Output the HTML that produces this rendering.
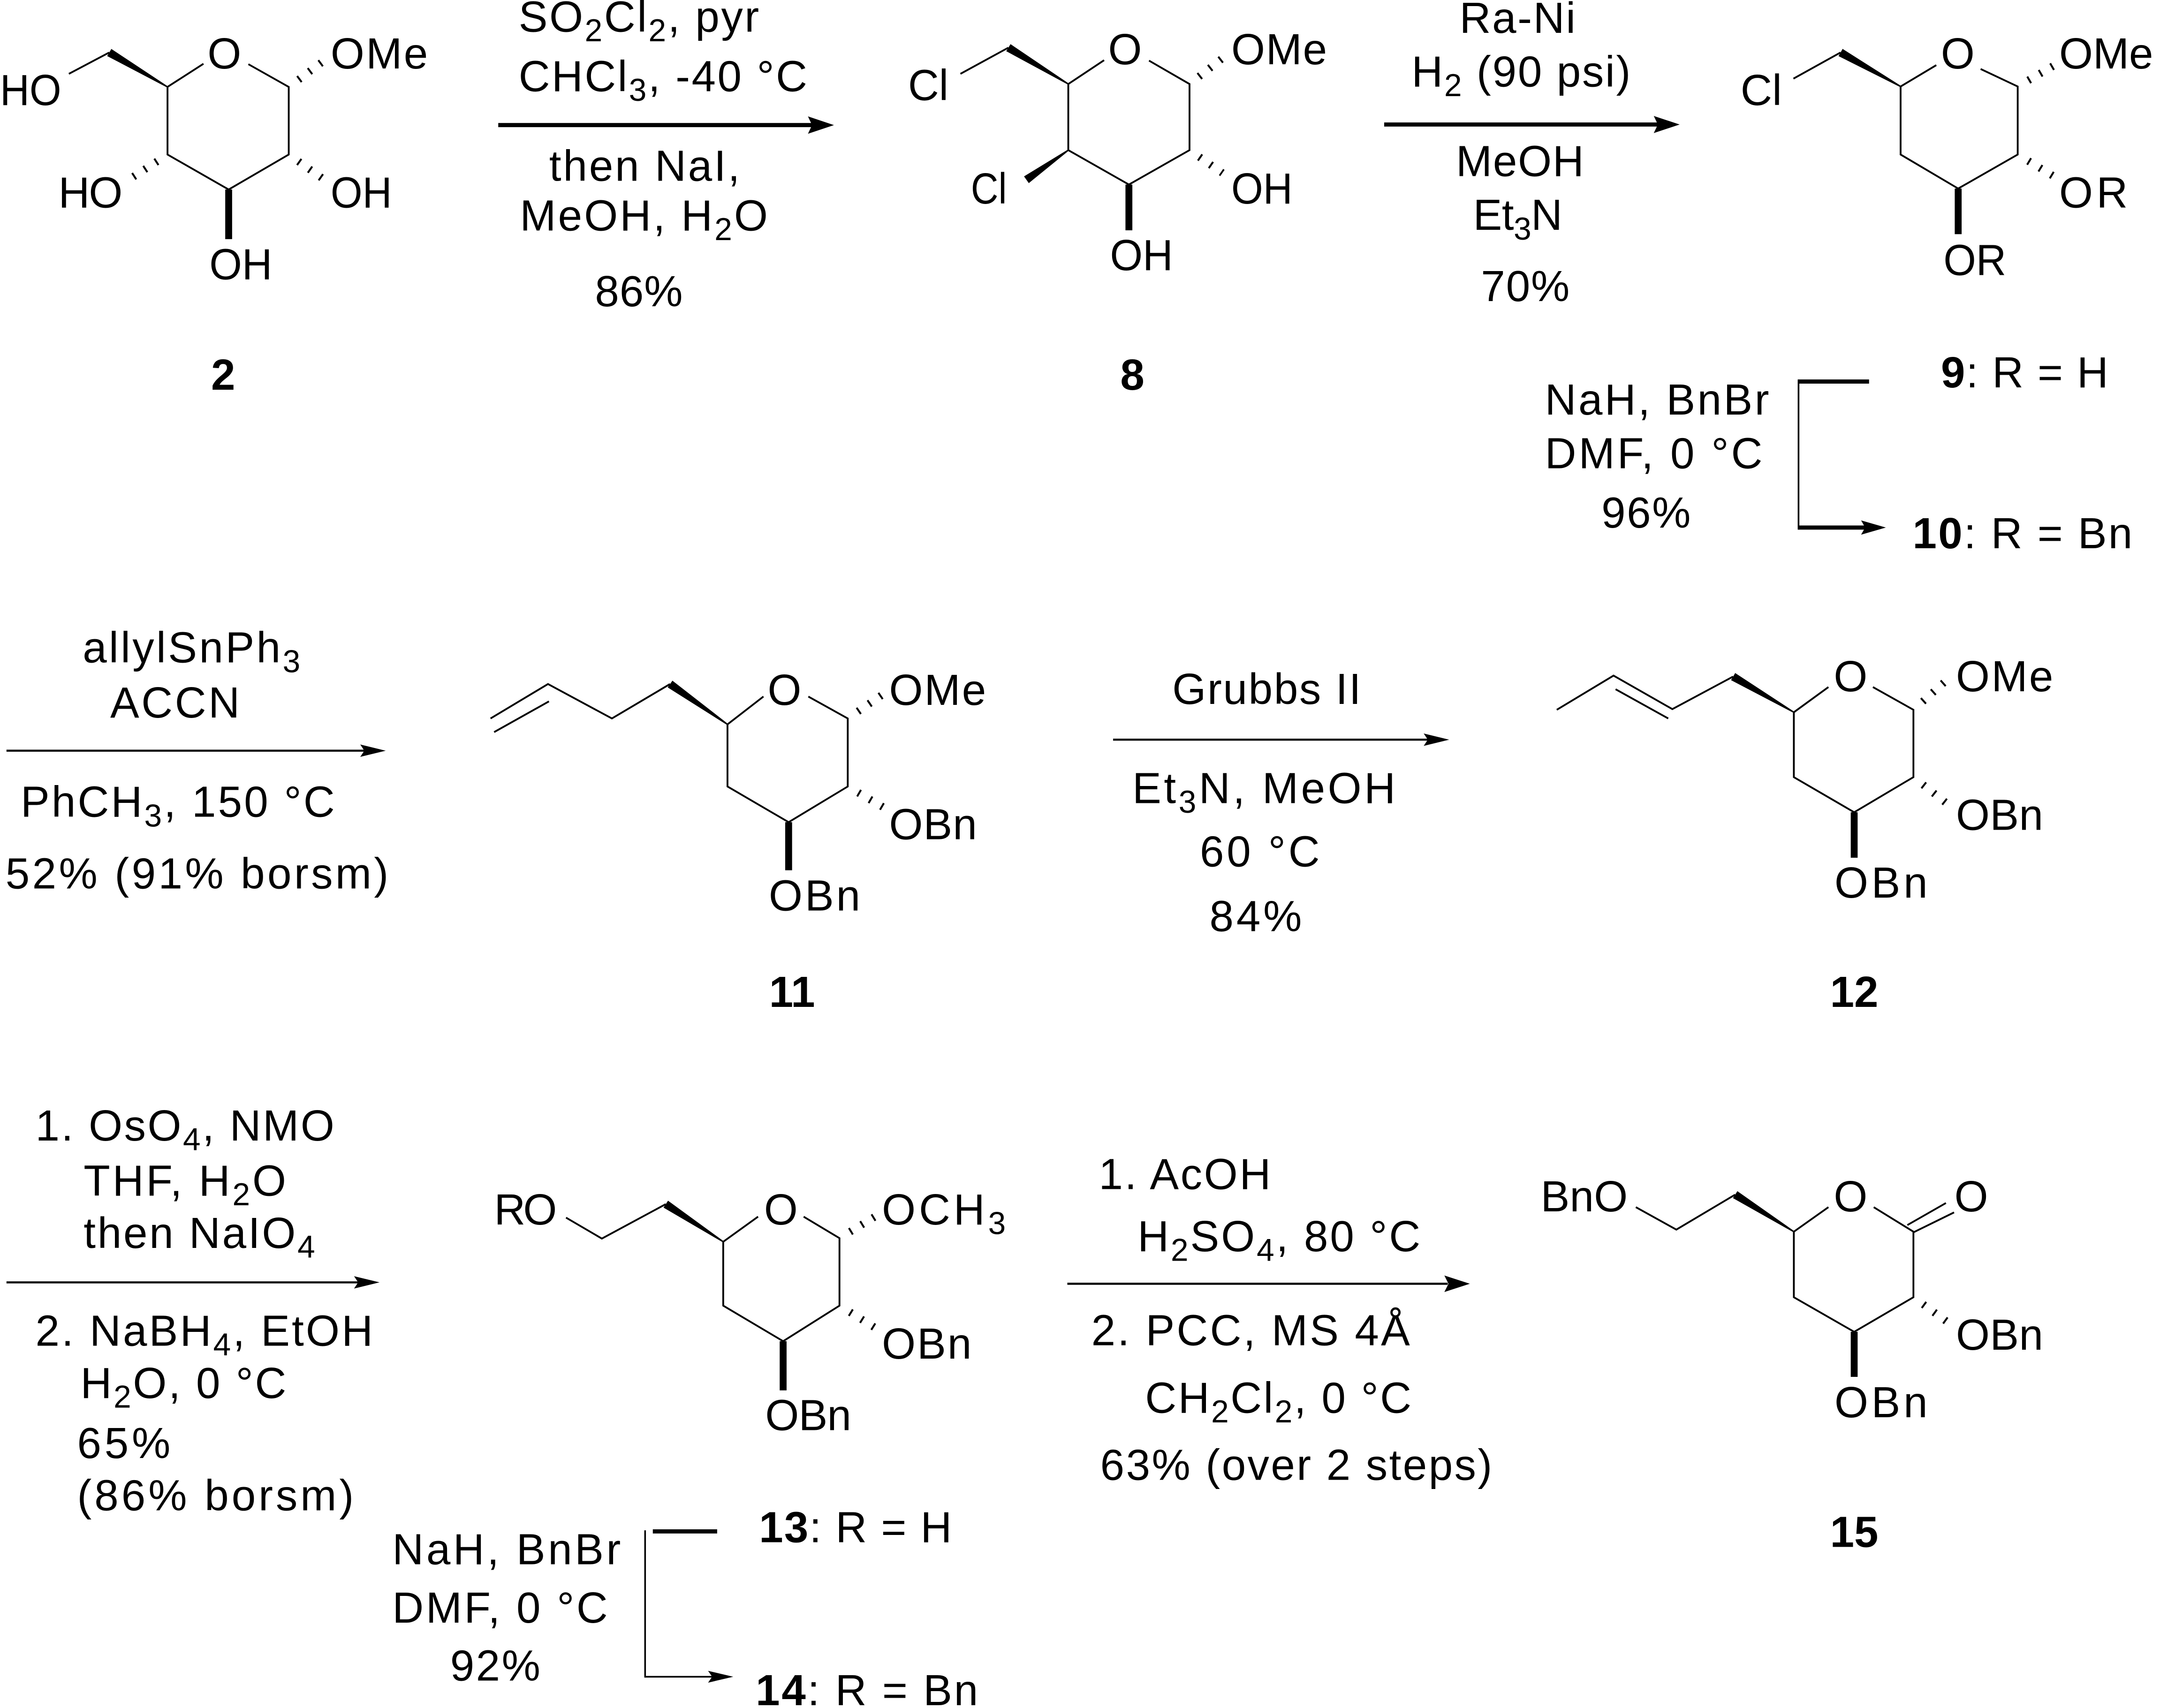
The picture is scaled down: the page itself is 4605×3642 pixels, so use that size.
<!DOCTYPE html>
<html>
<head>
<meta charset="utf-8">
<style>
html,body{margin:0;padding:0;background:#fff;}
svg{display:block;}
text{font-family:"Liberation Sans",Arial,sans-serif;font-size:31.5px;fill:#000;}
.b{font-weight:bold;}
.sb{font-size:23px;}
.bd{fill:none;stroke:#000;stroke-width:1.3;stroke-linejoin:miter;}
.h{stroke:#000;stroke-width:5.5;stroke-dasharray:1.4 8.2;stroke-dashoffset:3.9;fill:none;}
.ar{stroke:#000;stroke-width:3;fill:none;}
.at{stroke:#000;stroke-width:1.5;fill:none;}
.tn{stroke:#000;stroke-width:1.2;fill:none;}
</style>
</head>
<body>
<svg width="4605" height="3642" viewBox="0 0 1568 1240" preserveAspectRatio="none" xmlns="http://www.w3.org/2000/svg">
<rect x="0" y="0" width="1568" height="1240" fill="#fff"/>

<!-- ================= Structure 2 ================= -->
<polyline class="bd" points="147.7,46.3 121.6,63.1 121.6,112.2 166,137.6 209.6,112.2 209.6,63.1 180.3,46.6"/>
<line class="bd" x1="79.3" y1="38.1" x2="50" y2="53.6"/>
<polygon points="121.85,62.67 80.83,35.52 77.77,40.68 121.35,63.53" fill="#000"/>
<rect x="163.5" y="137.6" width="5" height="36" fill="#000"/>
<line class="h" x1="212.2" y1="61.2" x2="235.7" y2="43.7"/>
<line class="h" x1="118.9" y1="114" x2="94.5" y2="129.8"/>
<line class="h" x1="212" y1="113.9" x2="233.5" y2="129.1"/>
<text x="162.9" y="49.7" text-anchor="middle">O</text>
<text x="0" y="76.2" textLength="44.5" lengthAdjust="spacingAndGlyphs">HO</text>
<text x="240" y="49.7" textLength="70.6" lengthAdjust="spacing">OMe</text>
<text x="42.4" y="150.7" textLength="46.6" lengthAdjust="spacing">HO</text>
<text x="240" y="150.7" textLength="44.5" lengthAdjust="spacingAndGlyphs">OH</text>
<text x="152" y="202.8" textLength="45.6" lengthAdjust="spacingAndGlyphs">OH</text>
<text class="b" x="162" y="283" text-anchor="middle">2</text>

<!-- arrow 1 -->
<line class="ar" x1="361.7" y1="90.8" x2="590" y2="90.8"/>
<polygon points="605.4,90.8 586.5,84.5 589.5,90.8 586.5,97.1" fill="#000"/>
<text x="376.5" y="22.9" textLength="174.5" lengthAdjust="spacing">SO<tspan class="sb" dy="7">2</tspan><tspan dy="-7">Cl</tspan><tspan class="sb" dy="7">2</tspan><tspan dy="-7">, pyr</tspan></text>
<text x="376.5" y="66.2" textLength="209.5" lengthAdjust="spacing">CHCl<tspan class="sb" dy="7">3</tspan><tspan dy="-7">, -40 °C</tspan></text>
<text x="398.7" y="131.2" textLength="138.4" lengthAdjust="spacing">then NaI,</text>
<text x="377.4" y="167.3" textLength="180" lengthAdjust="spacing">MeOH, H<tspan class="sb" dy="7">2</tspan><tspan dy="-7">O</tspan></text>
<text x="431.9" y="222.3" textLength="63.7" lengthAdjust="spacing">86%</text>

<!-- ================= Structure 8 ================= -->
<polyline class="bd" points="801.5,43.7 775.5,61 775.5,109 819.5,134 863.5,109 863.5,61 834.1,44"/>
<line class="bd" x1="697.2" y1="53.6" x2="732" y2="34.6"/>
<polygon points="775.76,60.57 733.56,32.04 730.44,37.17 775.24,61.43" fill="#000"/>
<polygon points="775.21,108.59 743.37,128.05 746.83,132.95 775.79,109.41" fill="#000"/>
<rect x="817" y="134" width="5" height="33.2" fill="#000"/>
<line class="h" x1="865.9" y1="59.1" x2="887.4" y2="42.3"/>
<line class="h" x1="865.9" y1="110.7" x2="887.4" y2="125.6"/>
<text x="816.7" y="46.6" text-anchor="middle">O</text>
<text x="659.2" y="72.7" textLength="29.3" lengthAdjust="spacingAndGlyphs">Cl</text>
<text x="704.8" y="147.7" textLength="26.1" lengthAdjust="spacingAndGlyphs">Cl</text>
<text x="893.8" y="46.6" textLength="69.5" lengthAdjust="spacing">OMe</text>
<text x="893.8" y="147.7" textLength="44.5" lengthAdjust="spacingAndGlyphs">OH</text>
<text x="805.8" y="196.1" textLength="45.7" lengthAdjust="spacingAndGlyphs">OH</text>
<text class="b" x="822" y="283" text-anchor="middle">8</text>

<!-- arrow 2 -->
<line class="ar" x1="1004.8" y1="90.4" x2="1204" y2="90.4"/>
<polygon points="1219.3,90.4 1200.5,84.2 1203.5,90.4 1200.5,96.6" fill="#000"/>
<text x="1059.5" y="23.9" textLength="84.2" lengthAdjust="spacing">Ra-Ni</text>
<text x="1024.7" y="62.8" textLength="159" lengthAdjust="spacing">H<tspan class="sb" dy="7">2</tspan><tspan dy="-7"> (90 psi)</tspan></text>
<text x="1056.9" y="127.8" textLength="92.9" lengthAdjust="spacing">MeOH</text>
<text x="1069.4" y="166.9" textLength="64.8" lengthAdjust="spacing">Et<tspan class="sb" dy="7">3</tspan><tspan dy="-7">N</tspan></text>
<text x="1075.1" y="218.6" textLength="64.3" lengthAdjust="spacing">70%</text>

<!-- ================= Structure 9 ================= -->
<polyline class="bd" points="1405.6,47.3 1379.7,62.8 1379.7,112.2 1421.5,136.9 1464.7,112.2 1464.7,62.8 1437.8,50.1"/>
<line class="bd" x1="1301.9" y1="57.1" x2="1336.1" y2="38.1"/>
<polygon points="1379.95,62.37 1337.58,35.49 1334.62,40.71 1379.45,63.24" fill="#000"/>
<rect x="1419" y="136.9" width="5" height="33.1" fill="#000"/>
<line class="h" x1="1467.5" y1="61.2" x2="1492.7" y2="46.6"/>
<line class="h" x1="1467.5" y1="113.9" x2="1492.7" y2="129.1"/>
<text x="1421.2" y="49.7" text-anchor="middle">O</text>
<text x="1263.5" y="76.2" textLength="30" lengthAdjust="spacingAndGlyphs">Cl</text>
<text x="1494.8" y="49.7">OMe</text>
<text x="1494.8" y="150.7" textLength="49.8" lengthAdjust="spacing">OR</text>
<text x="1410.8" y="199.7" textLength="45.6" lengthAdjust="spacingAndGlyphs">OR</text>

<!-- bent arrow 9 -> 10 -->
<line class="ar" x1="1305.6" y1="277" x2="1356.8" y2="277"/>
<line class="tn" x1="1305.6" y1="275.5" x2="1305.6" y2="384.5"/>
<line class="ar" x1="1305.6" y1="383" x2="1354" y2="383"/>
<polygon points="1369,383 1351,377.8 1354,383 1351,388.2" fill="#000"/>
<text x="1409" y="281.2" textLength="121.5" lengthAdjust="spacing"><tspan class="b">9</tspan>: R = H</text>
<text x="1388.4" y="398" textLength="159.6" lengthAdjust="spacing"><tspan class="b">10</tspan>: R = Bn</text>
<text x="1121.5" y="301" textLength="162.7" lengthAdjust="spacing">NaH, BnBr</text>
<text x="1121.5" y="340" textLength="157.9" lengthAdjust="spacing">DMF, 0 °C</text>
<text x="1162.5" y="383" textLength="64.8" lengthAdjust="spacing">96%</text>

<!-- ================= Row 2 arrow 1 ================= -->
<line class="at" x1="4.7" y1="545" x2="265" y2="545"/>
<polygon points="280,545 261.5,540.5 264.5,545 261.5,549.5" fill="#000"/>
<text x="60" y="481" textLength="158" lengthAdjust="spacing">allylSnPh<tspan class="sb" dy="7">3</tspan></text>
<text x="80" y="521" textLength="94" lengthAdjust="spacing">ACCN</text>
<text x="15" y="593" textLength="228" lengthAdjust="spacing">PhCH<tspan class="sb" dy="7">3</tspan><tspan dy="-7">, 150 °C</tspan></text>
<text x="4" y="645" textLength="278" lengthAdjust="spacing">52% (91% borsm)</text>

<!-- ================= Structure 11 ================= -->
<polyline class="bd" points="554.2,505.7 528.1,525.9 528.1,571 572.5,596.9 615.4,571 615.4,521.6 586.8,505.7"/>
<polyline class="bd" points="486.4,496.6 444.2,521.6 397.8,496.6 356.1,521.6"/>
<line class="bd" x1="398.5" y1="509.2" x2="358.7" y2="531.5"/>
<polygon points="528.39,525.49 488.13,494.15 484.68,499.05 527.81,526.31" fill="#000"/>
<rect x="570" y="596.9" width="5" height="34.9" fill="#000"/>
<line class="h" x1="618.1" y1="519.7" x2="642.5" y2="503"/>
<line class="h" x1="618.1" y1="572.6" x2="642.8" y2="587"/>
<text x="569.5" y="511.8" text-anchor="middle">O</text>
<text x="645.4" y="511.8" textLength="70.4" lengthAdjust="spacing">OMe</text>
<text x="645.4" y="609.3" textLength="63.8" lengthAdjust="spacing">OBn</text>
<text x="558.1" y="661" textLength="66.4" lengthAdjust="spacing">OBn</text>
<text class="b" x="575" y="731" text-anchor="middle">11</text>

<!-- Row 2 arrow 2 -->
<line class="at" x1="808" y1="537" x2="1037" y2="537"/>
<polygon points="1052,537 1033.5,532.5 1036.5,537 1033.5,541.5" fill="#000"/>
<text x="851" y="511" textLength="137" lengthAdjust="spacing">Grubbs II</text>
<text x="822" y="583" textLength="191" lengthAdjust="spacing">Et<tspan class="sb" dy="7">3</tspan><tspan dy="-7">N, MeOH</tspan></text>
<text x="871" y="629" textLength="87" lengthAdjust="spacing">60 °C</text>
<text x="878" y="676" textLength="67" lengthAdjust="spacing">84%</text>

<!-- ================= Structure 12 ================= -->
<polyline class="bd" points="1327.3,498.8 1302.2,517.1 1302.2,564.2 1346,589.7 1389,564.2 1389,515.3 1359.6,498.8"/>
<polyline class="bd" points="1258.1,491.2 1214,514.8 1171.3,490.5 1130.1,515.3"/>
<line class="bd" x1="1172.8" y1="500.4" x2="1211" y2="521.6"/>
<polygon points="1302.45,516.67 1259.62,488.61 1256.58,493.79 1301.95,517.53" fill="#000"/>
<rect x="1343.5" y="589.7" width="5" height="33" fill="#000"/>
<line class="h" x1="1391.5" y1="513.1" x2="1414" y2="493"/>
<line class="h" x1="1391.5" y1="566.2" x2="1414" y2="583.9"/>
<text x="1343.4" y="501.9" text-anchor="middle">O</text>
<text x="1419.9" y="501.9" textLength="70.6" lengthAdjust="spacing">OMe</text>
<text x="1419.9" y="602.5" textLength="63.3" lengthAdjust="spacing">OBn</text>
<text x="1331.7" y="651.6" textLength="67.6" lengthAdjust="spacing">OBn</text>
<text class="b" x="1346" y="731" text-anchor="middle">12</text>

<!-- ================= Row 3 arrow 1 ================= -->
<line class="at" x1="4.7" y1="931" x2="260" y2="931"/>
<polygon points="275.5,931 257,926.5 260,931 257,935.5" fill="#000"/>
<text x="25.7" y="828" textLength="217" lengthAdjust="spacing">1. OsO<tspan class="sb" dy="7">4</tspan><tspan dy="-7">, NMO</tspan></text>
<text x="60.7" y="868" textLength="147" lengthAdjust="spacing">THF, H<tspan class="sb" dy="7">2</tspan><tspan dy="-7">O</tspan></text>
<text x="60.7" y="906" textLength="168" lengthAdjust="spacing">then NaIO<tspan class="sb" dy="7">4</tspan></text>
<text x="25.7" y="977" textLength="245" lengthAdjust="spacing">2. NaBH<tspan class="sb" dy="7">4</tspan><tspan dy="-7">, EtOH</tspan></text>
<text x="58.4" y="1015" textLength="149.4" lengthAdjust="spacing">H<tspan class="sb" dy="7">2</tspan><tspan dy="-7">O, 0 °C</tspan></text>
<text x="56" y="1058.5" textLength="67.7" lengthAdjust="spacing">65%</text>
<text x="56" y="1096.5" textLength="200.8" lengthAdjust="spacing">(86% borsm)</text>

<!-- ================= Structure 13 ================= -->
<polyline class="bd" points="550.3,883.3 525,901.5 525,947.9 568.5,973.7 609.4,947.9 609.4,898.9 583.4,883.3"/>
<polyline class="bd" points="483.3,874.2 436.9,899.2 410.9,884"/>
<polygon points="525.27,901.08 484.94,871.69 481.66,876.71 524.73,901.92" fill="#000"/>
<rect x="566" y="973.7" width="5" height="35.7" fill="#000"/>
<line class="h" x1="612.2" y1="897.2" x2="637.6" y2="881.8"/>
<line class="h" x1="612.2" y1="949.6" x2="637.6" y2="965.4"/>
<text x="358.7" y="889" textLength="45.6" lengthAdjust="spacing">RO</text>
<text x="566.9" y="889" text-anchor="middle">O</text>
<text x="640.2" y="889" textLength="89.9" lengthAdjust="spacing">OCH<tspan class="sb" dy="7">3</tspan></text>
<text x="640.2" y="986.3" textLength="65.1" lengthAdjust="spacing">OBn</text>
<text x="555.5" y="1038.3" textLength="62.5" lengthAdjust="spacing">OBn</text>

<!-- bent arrow 13 -> 14 -->
<line class="ar" x1="473.9" y1="1111.8" x2="520.6" y2="1111.8"/>
<line class="tn" x1="468.3" y1="1111" x2="468.3" y2="1217.9"/>
<line class="tn" x1="468.3" y1="1217.3" x2="518" y2="1217.3"/>
<polygon points="532.3,1217.3 514,1213 517,1217.3 514,1221.6" fill="#000"/>
<text x="551" y="1119.7" textLength="140" lengthAdjust="spacing"><tspan class="b">13</tspan>: R = H</text>
<text x="548.6" y="1238" textLength="161.4" lengthAdjust="spacing"><tspan class="b">14</tspan>: R = Bn</text>
<text x="284.8" y="1135.7" textLength="165.8" lengthAdjust="spacing">NaH, BnBr</text>
<text x="284.8" y="1178" textLength="156.4" lengthAdjust="spacing">DMF, 0 °C</text>
<text x="326.8" y="1220" textLength="65.4" lengthAdjust="spacing">92%</text>

<!-- Row 3 arrow 2 -->
<line class="at" x1="774.8" y1="932" x2="1051" y2="932"/>
<polygon points="1067,932 1048.5,926 1051.5,932 1048.5,938" fill="#000"/>
<text x="797.6" y="863.2" textLength="124.9" lengthAdjust="spacing">1. AcOH</text>
<text x="825.8" y="908.4" textLength="205.3" lengthAdjust="spacing">H<tspan class="sb" dy="7">2</tspan><tspan dy="-7">SO</tspan><tspan class="sb" dy="7">4</tspan><tspan dy="-7">, 80 °C</tspan></text>
<text x="792.2" y="976.7" textLength="231.3" lengthAdjust="spacing">2. PCC, MS 4Å</text>
<text x="831.3" y="1025.6" textLength="193.3" lengthAdjust="spacing">CH<tspan class="sb" dy="7">2</tspan><tspan dy="-7">Cl</tspan><tspan class="sb" dy="7">2</tspan><tspan dy="-7">, 0 °C</tspan></text>
<text x="798.7" y="1074.3" textLength="284.5" lengthAdjust="spacing">63% (over 2 steps)</text>

<!-- ================= Structure 15 ================= -->
<polyline class="bd" points="1327.3,876.4 1302.2,894.2 1302.2,941.8 1346,966.9 1389,941.8 1389,894.2 1360.2,876.4"/>
<polyline class="bd" points="1259.6,867.3 1216.9,892.7 1187.5,876.4"/>
<line class="bd" x1="1384.6" y1="889.4" x2="1412.6" y2="873.4"/>
<line class="bd" x1="1389" y1="894.7" x2="1418.5" y2="880.2"/>
<polygon points="1302.47,893.78 1261.2,864.77 1258,869.84 1301.93,894.62" fill="#000"/>
<rect x="1343.5" y="966.9" width="5" height="32.7" fill="#000"/>
<line class="h" x1="1391.5" y1="943.6" x2="1414" y2="960"/>
<text x="1118.4" y="879.5" textLength="63.2" lengthAdjust="spacing">BnO</text>
<text x="1343.4" y="879.5" text-anchor="middle">O</text>
<text x="1431" y="879.5" text-anchor="middle">O</text>
<text x="1419.9" y="979.8" textLength="63.3" lengthAdjust="spacing">OBn</text>
<text x="1331.7" y="1028.9" textLength="67.6" lengthAdjust="spacing">OBn</text>
<text class="b" x="1346" y="1123" text-anchor="middle">15</text>
</svg>
</body>
</html>
